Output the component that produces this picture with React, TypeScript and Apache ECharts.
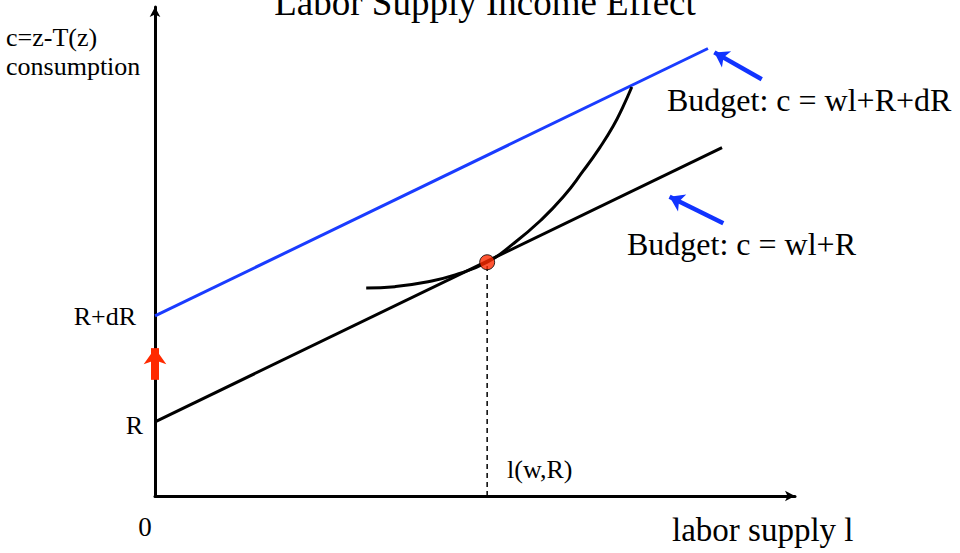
import React, { useEffect, useRef } from "react";
import * as echarts from "echarts";

// ---- data (in abstract chart units) ----
const budgetX = [0, 8.86];
const budgetY = [1.52, 7.14];
const budgetHighX = [0, 8.64];
const budgetHighY = [3.69, 9.17];
const curveX = [3.3, 3.75, 4.22, 4.69, 5.19, 5.59, 6.02, 6.38, 6.69, 6.95, 7.16, 7.31, 7.45];
const curveY = [4.26, 4.29, 4.38, 4.53, 4.79, 5.16, 5.64, 6.13, 6.66, 7.14, 7.58, 7.97, 8.38];
const tangency = [5.19, 4.79];
const incomeArrow = [[0, 2.38], [0, 3.03]];
const arrowHigh = [[9.48, 8.54], [8.74, 9.09]];
const arrowLow = [[8.88, 5.59], [8.04, 6.13]];
const X_MAX = 10.0;
const Y_MAX = 10.02;

const FONT = "'Liberation Serif', 'DejaVu Serif', serif";

const zip = (xs: number[], ys: number[]) => xs.map((x, i) => [x, ys[i]]);

export default function App() {
  const ref = useRef<HTMLDivElement>(null);
  useEffect(() => {
    if (!ref.current) return;
    const chart = echarts.init(ref.current, undefined, { renderer: "svg" });
    const txt = (
      text: string,
      x: number,
      y: number,
      size: number,
      align: "left" | "right" | "center" = "left"
    ) => ({
      type: "text",
      x,
      y,
      silent: true,
      style: {
        text,
        fontFamily: FONT,
        fontSize: size,
        fill: "#000",
        align,
        verticalAlign: "middle",
      },
    });
    const mlLine = (pts: number[][], color: string, width: number, size: number[]) => ({
      silent: true,
      symbol: ["none", "arrow"],
      symbolSize: size,
      label: { show: false },
      emphasis: { disabled: true },
      lineStyle: { color, width, type: "solid" },
      data: [[{ coord: pts[0] }, { coord: pts[1] }]],
    });
    const axisCommon = {
      type: "value",
      min: 0,
      splitLine: { show: false },
      axisTick: { show: false },
      axisLabel: { show: false },
      axisLine: {
        show: true,
        symbol: ["none", "arrow"],
        symbolSize: [8, 10],
        lineStyle: { color: "#000", width: 3 },
      },
    };
    chart.setOption({
      animation: false,
      backgroundColor: "#fff",
      grid: { left: 155, top: 7, width: 640, height: 489, containLabel: false },
      xAxis: { ...axisCommon, max: X_MAX },
      yAxis: { ...axisCommon, max: Y_MAX },
      series: [
        {
          type: "line",
          data: zip(budgetX, budgetY),
          symbol: "none",
          lineStyle: { color: "#000", width: 3 },
          silent: true,
        },
        {
          type: "line",
          data: zip(budgetHighX, budgetHighY),
          symbol: "none",
          lineStyle: { color: "#1a3cff", width: 3 },
          silent: true,
        },
        {
          type: "line",
          data: zip(curveX, curveY),
          symbol: "none",
          smooth: 0.5,
          lineStyle: { color: "#000", width: 3 },
          silent: true,
        },
        {
          type: "line",
          data: [[tangency[0], 0], tangency],
          symbol: "none",
          lineStyle: { color: "#000", width: 1.5, type: [5, 4] },
          silent: true,
        },
        {
          type: "scatter",
          data: [tangency],
          symbolSize: 15,
          itemStyle: { color: "#ff2a00", borderColor: "#000", borderWidth: 1 },
          silent: true,
          z: 5,
        },
        {
          type: "line",
          data: [],
          markLine: mlLine(incomeArrow, "#ff2a00", 8, [17, 16]),
        },
        {
          type: "line",
          data: [],
          markLine: mlLine(arrowHigh, "#1133ff", 4.5, [14, 14]),
        },
        {
          type: "line",
          data: [],
          markLine: mlLine(arrowLow, "#1133ff", 4.5, [14, 14]),
        },
      ],
      graphic: [
        txt("Labor Supply Income Effect", 485, 2, 37, "center"),
        txt("c=z-T(z)", 6, 37, 26),
        txt("consumption", 6, 66, 26),
        txt("R+dR", 136, 316, 26, "right"),
        txt("R", 143, 425, 26, "right"),
        txt("0", 145, 527, 27, "center"),
        txt("l(w,R)", 507, 469, 26),
        txt("labor supply l", 672, 530, 33),
        txt("Budget: c = wl+R+dR", 667, 100, 32),
        txt("Budget: c = wl+R", 627, 244, 32),
      ],
    });
    return () => chart.dispose();
  }, []);
  return (
    <div
      ref={ref}
      style={{ position: "fixed", left: 0, top: 0, width: 960, height: 553, background: "#fff" }}
    />
  );
}
